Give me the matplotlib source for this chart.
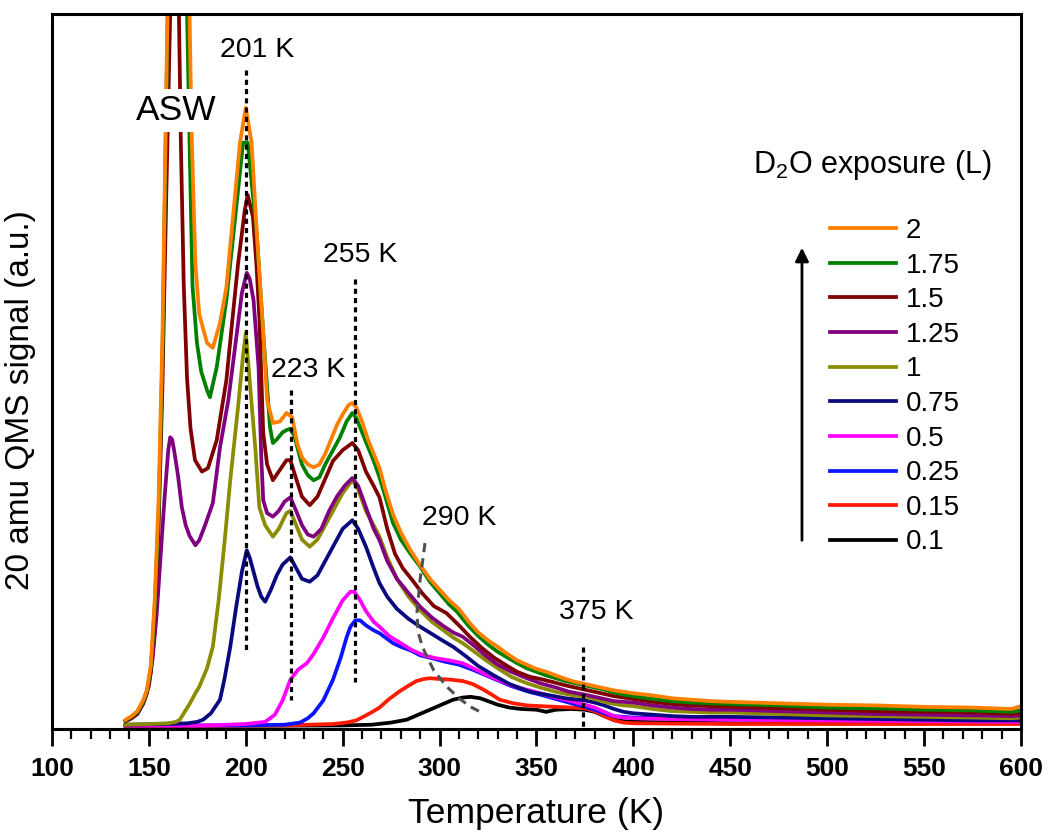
import matplotlib
matplotlib.use("Agg")
import matplotlib.pyplot as plt
from matplotlib.ticker import MultipleLocator

plt.rcParams['font.family'] = ['Liberation Sans', 'DejaVu Sans']
plt.rcParams['mathtext.fontset'] = 'custom'
plt.rcParams['mathtext.rm'] = 'Liberation Sans'
plt.rcParams['mathtext.it'] = 'Liberation Sans:italic'

# Данные, сигнал в условных единицах
t_2 = [138, 141, 144, 147, 149, 151, 152, 153, 155, 157, 159, 161, 164, 167, 169, 171, 172, 174, 176, 180,
       183, 186.7, 190, 193.4, 197, 200, 203, 205.7, 209, 211, 214, 217.6, 221, 224, 226.5, 229, 232, 235,
       238, 241, 244, 247, 250, 253, 255, 257, 260, 263, 266, 269, 272, 276, 280, 285, 290, 295, 300, 305,
       310, 315, 320, 325, 330, 335, 340, 345, 350, 355, 360, 365, 370, 375, 380, 385, 390, 395, 400, 410,
       420, 430, 440, 450, 475, 500, 525, 550, 575, 595, 600]
y_2 = [1.3, 1.8, 2.5, 4, 5.5, 9, 13.4, 18, 32, 55, 90, 125, 145, 140, 125, 100, 84, 65, 58, 54,
       53.3, 56.8, 61.8, 71.6, 82, 86.9, 82, 69.4, 55.4, 46, 42.8, 43, 44.2, 43.6, 40, 38, 37, 36.6,
       37, 38.5, 40.5, 42.5, 44, 45.3, 45.6, 45, 43, 40.5, 38.5, 36.5, 33.5, 30, 27.5, 25, 22.9, 21, 19.5, 18,
       16.8, 15, 13.5, 12.4, 11.5, 10.5, 9.6, 9, 8.4, 8, 7.5, 7, 6.6, 6.3, 6, 5.7, 5.4, 5.2, 5.0, 4.7,
       4.3, 4.1, 3.9, 3.8, 3.6, 3.4, 3.3, 3.1, 3.0, 2.8, 3.2]

t_175 = [138, 141, 144, 147, 149, 151, 152, 153, 155, 157, 159, 161, 164, 167, 169.7, 171, 172.5, 174.8, 177,
         180, 181.5, 185, 190, 195.5, 198.6, 201, 205.6, 209, 212.5, 214, 216, 219, 221, 223, 225, 229, 232,
         235, 238, 241, 245, 248.6, 252, 255, 257, 260, 263, 266, 269, 272, 276, 280, 285, 290, 295, 300,
         305, 309, 315, 320, 325, 330, 335, 340, 345, 350, 355, 360, 365, 370, 375, 380, 385, 390, 395, 400,
         410, 420, 430, 440, 450, 475, 500, 525, 550, 575, 595, 600]
y_175 = [1.2, 1.7, 2.3, 3.8, 5.2, 8.5, 12.5, 17, 30, 52, 88, 120, 135, 122, 100, 82, 62, 54, 50,
         47.4, 46.4, 50.6, 60, 74, 82, 82, 69.4, 55.4, 42.2, 40, 40.5, 41.5, 41.8, 42, 41, 37, 35.5,
         34.8, 35.2, 37, 39, 40.8, 43, 44.2, 43.5, 41.5, 39.5, 37.5, 35.2, 32.5, 28.8, 26.5, 24.5, 22.7, 20.6, 19,
         17.4, 16.4, 14.4, 13, 11.8, 10.8, 10, 9.2, 8.5, 8, 7.5, 7.1, 6.7, 6.4, 6.1, 5.8, 5.5, 5.1, 4.8, 4.6,
         4.2, 3.9, 3.7, 3.6, 3.5, 3.3, 3.0, 2.9, 2.7, 2.6, 2.4, 2.6]

t_15 = [138, 141, 144, 147, 149, 151, 152, 153, 155, 157, 159, 161, 162.5, 164, 165.5, 166.5, 168, 169.7,
        171.5, 173.8, 177.4, 180.5, 185, 190, 193, 196, 199.5, 201, 203.7, 205.5, 207, 209, 211, 214, 217,
        221, 223, 226, 229, 233, 237, 241, 245, 250, 255, 258, 262, 266, 269, 273, 277, 281, 286, 291, 297,
        303.6, 310, 316, 322, 328, 335, 340, 346.6, 352, 358, 365, 370, 375, 380, 385, 390, 395, 400, 410,
        420, 430, 440, 450, 475, 500, 525, 550, 575, 595, 600]
y_15 = [1.1, 1.5, 2.1, 3.5, 5, 8, 12, 16, 28, 48, 75, 100, 115, 112, 100, 82, 62, 49,
        42, 37.6, 36, 36.5, 40.4, 48.8, 57, 65, 72.6, 74.7, 71.6, 65, 57.6, 41.4, 37, 34.8, 36,
        37.6, 37.6, 35, 32.5, 31.3, 32.5, 35, 37.5, 39, 40, 39, 36, 34, 32.4, 28, 24.5, 22.5, 20.8, 19, 17.2,
        16.2, 14.5, 12.8, 11.3, 10, 8.8, 8, 7.3, 7, 6.6, 6.1, 5.8, 5.5, 5.2, 4.9, 4.6, 4.4, 4.2, 3.8,
        3.5, 3.3, 3.2, 3.1, 2.9, 2.7, 2.5, 2.4, 2.3, 2.1, 2.2]

t_125 = [138, 141, 144, 147, 150, 152, 154, 156, 158, 160, 161, 162, 163, 165, 167, 169, 171, 174, 176, 179,
         183, 186.7, 191, 195.4, 198, 200.5, 202, 204, 206.6, 208, 209, 211, 214, 217, 220, 223, 226, 229,
         232, 235, 239, 243, 247, 251, 255, 258, 262, 266, 269, 273, 278, 284, 290, 296, 302, 307, 312, 318,
         324, 330, 337, 345, 352, 360, 367, 375, 380, 385, 390, 395, 400, 410, 420, 430, 440, 450, 475, 500,
         525, 550, 575, 595, 600]
y_125 = [1.1, 1.5, 2.1, 3.6, 6, 10, 16, 24, 32, 39, 40.8, 40.5, 39, 35.5, 31, 28.5, 27, 25.7, 26.4, 28.5,
         31.6, 39.4, 46, 55.4, 61, 63.8, 63, 60, 50.6, 38, 32, 30.2, 29.7, 30.5, 31.8, 32.4, 30.5, 28.5,
         27.2, 26.9, 28, 30.5, 32.5, 34, 35.1, 34, 31, 28, 26.4, 23.5, 21, 19, 17.1, 15.6, 14.4, 13.5, 12.9, 11.6,
         10.2, 9, 8, 7.1, 6.4, 5.8, 5.2, 4.8, 4.5, 4.2, 3.9, 3.8, 3.7, 3.3, 3.0, 2.8, 2.7, 2.7, 2.5, 2.3,
         2.1, 2.0, 1.9, 1.8, 1.9]

t_1 = [138, 150, 160, 164, 166, 168, 171, 174, 176, 180, 183, 186, 189, 192, 196, 198.5, 200, 202, 205, 207,
       210, 214, 217, 221, 223, 226, 229, 233, 237, 241, 245, 250, 255, 258, 262, 266, 269, 273, 278, 284,
       290, 296, 302, 307, 312, 318, 324, 330, 337, 345, 352, 360, 367, 375, 380, 385, 390, 395, 400, 410,
       420, 430, 440, 450, 475, 500, 525, 550, 575, 595, 600]
y_1 = [0.6, 0.7, 0.8, 1.0, 1.3, 2.2, 3.5, 5, 5.9, 8.5, 11.5, 18, 26, 34.8, 45, 52, 55.4, 48.8, 39, 31,
       28.5, 26.9, 28, 30.2, 30.5, 28.5, 26.5, 25.5, 26.5, 28.5, 30.5, 33, 34.8, 33.5, 30.5, 28.5, 26.9, 24, 21, 18.5,
       16.6, 15, 13.8, 12.8, 12, 10.8, 9.6, 8.5, 7.3, 6.4, 5.8, 5.2, 4.8, 4.5, 4.2, 3.8, 3.5, 3.3, 3.2, 2.8,
       2.5, 2.4, 2.3, 2.3, 2.1, 1.9, 1.8, 1.7, 1.6, 1.5, 1.6]

t_075 = [138, 160, 170, 175, 178, 182, 186.7, 189, 192, 195, 198, 200.5, 202, 204, 206, 208, 210, 213, 216,
         219, 223, 226, 229, 233, 237, 241, 245, 250, 255, 258, 262, 266, 269, 273, 278, 284, 290, 296, 302,
         307, 313, 320, 328, 336, 346.6, 355, 365, 375, 380, 385, 390, 395, 400, 410, 420, 430, 450, 475, 500,
         525, 550, 575, 600]
y_075 = [0.6, 0.7, 0.8, 1.0, 1.3, 2.2, 4.1, 7, 11.5, 17, 22, 25, 24, 22, 20, 18.5, 17.8, 19.5, 21.5,
         23, 24, 22.5, 21, 20.6, 21.5, 23.5, 25.5, 28, 29.2, 28, 25.5, 22.5, 20.4, 18.5, 16.8, 15.4, 14.3, 13.3, 12.3,
         11.5, 10.3, 8.8, 7.5, 6.3, 5.2, 4.8, 4.3, 4.0, 3.7, 3.3, 2.8, 2.4, 2.2, 2.0, 1.8, 1.7, 1.7, 1.6, 1.5,
         1.4, 1.3, 1.2, 1.2]

t_05 = [138, 180, 200, 210, 215, 219, 223, 227, 231.5, 235, 240, 245, 250, 254, 256, 259, 262, 266, 269, 274,
        280, 286, 292, 298, 305, 312, 318, 324, 330, 337, 345, 352, 360, 368, 375, 380, 385, 390, 395, 400,
        420, 450, 500, 550, 600]
y_05 = [0.5, 0.5, 0.7, 1.0, 2.0, 4.0, 6.9, 8.3, 9.2, 10.5, 12.8, 15.5, 18, 19.2, 19.2, 18, 16.5, 15, 14.3, 13,
        12, 11, 10.3, 9.9, 9.6, 9.2, 8.4, 7.6, 6.9, 6.1, 5.5, 5, 4.4, 3.9, 3.4, 3.0, 2.4, 1.8, 1.6, 1.5,
        1.4, 1.3, 1.2, 1.1, 1.0]

t_025 = [138, 200, 220, 228, 232, 235, 240, 245, 249, 252, 254, 256.5, 259, 262, 266, 269, 272, 276, 280, 285,
         290, 296, 303, 310, 317, 324, 330, 337, 345, 352, 360, 368, 375, 380, 385, 390, 395, 400, 420, 450,
         500, 550, 600]
y_025 = [0.5, 0.5, 0.6, 0.9, 1.5, 2.2, 4.0, 6.9, 10, 12.8, 14.3, 15.2, 15.2, 14.5, 13.8, 13.4, 12.8, 12, 11.5, 11,
         10.3, 9.9, 9.4, 9.0, 8.3, 7.5, 6.8, 6, 5.3, 4.8, 4.2, 3.6, 3.1, 2.7, 2.2, 1.8, 1.7, 1.6, 1.5, 1.4,
         1.3, 1.2, 1.1]

t_015 = [138, 220, 245, 252, 257, 262, 266, 269, 274, 279, 283, 288, 292, 295, 300, 306, 312, 317, 322, 327,
         331, 338, 345, 352, 360, 368, 375, 380, 385, 390, 395, 400, 450, 500, 550, 600]
y_015 = [0.4, 0.5, 0.7, 0.9, 1.2, 1.9, 2.5, 3.0, 4.2, 5.2, 5.9, 6.7, 7.0, 7.1, 7.0, 6.9, 6.7, 6.3, 5.6, 4.8,
         4.1, 3.6, 3.3, 3.2, 3.1, 3.0, 2.9, 2.5, 1.8, 1.2, 0.9, 0.8, 0.7, 0.7, 0.7, 0.7]

t_01 = [138, 250, 265, 275, 283, 289, 295, 301, 307, 312, 316, 321, 326, 330, 336, 342, 350, 355, 360, 368,
        375, 380, 385, 390, 395, 400, 450, 500, 550, 600]
y_01 = [0.4, 0.5, 0.6, 0.9, 1.3, 2.0, 2.7, 3.4, 4.1, 4.4, 4.5, 4.3, 3.8, 3.4, 3.0, 2.8, 2.7, 2.4, 2.7, 2.8,
        2.7, 2.4, 1.8, 1.3, 1.1, 1.0, 0.8, 0.8, 0.8, 0.8]

# пунктирная кривая у 290 K
t_290 = [292.5, 290, 288.3, 289, 291, 293.5, 297, 303.8, 310, 316, 322.4]
y_290 = [26, 21, 16.2, 13.5, 11.6, 10.1, 8.2, 5.9, 4.3, 3.1, 2.2]

series = [
    ("0.1", t_01, y_01, "black"),
    ("0.15", t_015, y_015, "#ff1a00"),
    ("0.25", t_025, y_025, "#0a14ff"),
    ("0.5", t_05, y_05, "#ff00ff"),
    ("0.75", t_075, y_075, "#0a0a80"),
    ("1", t_1, y_1, "#8c8c00"),
    ("1.25", t_125, y_125, "#800080"),
    ("1.5", t_15, y_15, "#800000"),
    ("1.75", t_175, y_175, "#008000"),
    ("2", t_2, y_2, "#ff8000"),
]

fig = plt.figure(figsize=(10.48, 8.39), dpi=100)
ax = fig.add_axes([0.0496, 0.1311, 0.9246, 0.8522])

for label, t, y, color in series:
    ax.plot(t, y, color=color, lw=2.7, label=label)

# пунктирные метки пиков
dot = dict(color="black", lw=2.3, linestyle=(0, (1.6, 1.3)))
ax.plot([200.1, 200.1], [92.2, 11], **dot)
ax.plot([223.3, 223.3], [47.4, 4], **dot)
ax.plot([256.3, 256.3], [63, 6.6], **dot)
ax.plot([374, 374], [11.5, 0], **dot)
ax.plot(t_290, y_290, color="#505050", lw=2.2, linestyle=(0, (3, 2)))

fs = 20.5
ax.text(205.8, 95, "201 K", fontsize=fs, ha="center", va="center")
ax.text(232, 50.2, "223 K", fontsize=fs, ha="center", va="center")
ax.text(259, 66.3, "255 K", fontsize=fs, ha="center", va="center")
ax.text(310, 29.5, "290 K", fontsize=fs, ha="center", va="center")
ax.text(381, 16.4, "375 K", fontsize=fs, ha="center", va="center")
ax.text(164, 86.5, "ASW", fontsize=25.5, ha="center", va="center",
        bbox=dict(facecolor="white", edgecolor="none", pad=3.5))

# стрелка и легенда
ax.annotate("", xy=(487, 67.7), xytext=(487, 26),
            arrowprops=dict(arrowstyle="-|>", color="black", lw=2, mutation_scale=20))
ax.text(585, 78.9, "D$_2$O exposure (L)", fontsize=22, ha="right", va="center")

handles, labels = ax.get_legend_handles_labels()
ax.legend(handles[::-1], labels[::-1], loc="upper left", bbox_to_anchor=(0.803, 0.7147),
          frameon=False, fontsize=20, handlelength=2.37, handletextpad=0.36,
          labelspacing=0.31, borderpad=0, borderaxespad=0)

ax.set_xlim(100, 600)
ax.set_ylim(0, 100)
ax.set_yticks([])
ax.xaxis.set_major_locator(MultipleLocator(50))
ax.xaxis.set_minor_locator(MultipleLocator(10))
ax.tick_params(axis="x", which="major", direction="out", length=12, width=2, pad=8)
ax.tick_params(axis="x", which="minor", direction="out", length=7, width=1.6)
for lab in ax.get_xticklabels():
    lab.set_fontsize(19)
    lab.set_fontweight("bold")
for sp in ax.spines.values():
    sp.set_linewidth(2.2)

ax.set_xlabel("Temperature (K)", fontsize=25.5, labelpad=12)
ax.set_ylabel("20 amu QMS signal (a.u.)", fontsize=24)
ax.yaxis.set_label_coords(-0.016, 0.46)

fig.savefig("out.png", dpi=100)
